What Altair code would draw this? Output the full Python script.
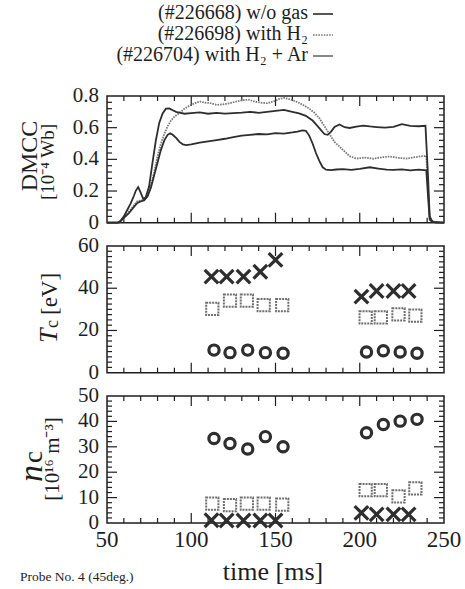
import altair as alt
import pandas as pd

# ---------------- data ----------------
# DMCC traces (time [ms], value [1e-4 Wb])
t_wo = [50, 56, 58, 60, 62, 64, 66, 67, 68.5, 70, 71.5, 73, 75, 77, 79, 81, 83, 85, 87, 89, 91, 93, 96,
        100, 105, 110, 115, 120, 125, 130, 135, 140, 145, 150, 155, 160, 164, 168, 172, 175, 177, 179,
        181, 183, 185, 188, 191, 194, 198, 202, 206, 210, 215, 220, 225, 230, 235, 239, 240.5, 241.5,
        243, 245, 250]
v_wo = [0, 0, 0.01, 0.04, 0.08, 0.12, 0.17, 0.20, 0.225, 0.19, 0.15, 0.16, 0.23, 0.38, 0.52, 0.63, 0.69,
        0.72, 0.722, 0.71, 0.70, 0.695, 0.688, 0.692, 0.697, 0.688, 0.694, 0.689, 0.692, 0.695, 0.70,
        0.694, 0.70, 0.706, 0.712, 0.70, 0.69, 0.675, 0.645, 0.61, 0.585, 0.56, 0.555, 0.575, 0.605,
        0.62, 0.603, 0.598, 0.607, 0.613, 0.608, 0.604, 0.60, 0.605, 0.622, 0.611, 0.609, 0.612, 0.30,
        0.04, 0.01, 0, 0]

t_h2 = [50, 57, 60, 63, 66, 68, 70, 72, 74, 76, 78, 80, 82, 84, 86, 88, 90, 93, 96, 100, 105, 108, 111,
        115, 119, 123, 127, 131, 134, 138, 142, 145, 149, 152, 155, 158, 161, 164, 167, 170, 173, 176,
        179, 182, 185, 188, 191, 194, 198, 203, 208, 213, 218, 223, 228, 233, 237, 239.5, 240.5,
        241.5, 243, 250]
v_h2 = [0, 0, 0.03, 0.07, 0.11, 0.135, 0.14, 0.145, 0.17, 0.23, 0.32, 0.42, 0.50, 0.56, 0.61, 0.645,
        0.67, 0.693, 0.72, 0.745, 0.766, 0.758, 0.756, 0.744, 0.747, 0.755, 0.766, 0.774, 0.777, 0.764,
        0.757, 0.755, 0.766, 0.78, 0.788, 0.781, 0.77, 0.756, 0.74, 0.72, 0.695, 0.66, 0.61, 0.56, 0.51,
        0.48, 0.45, 0.42, 0.405, 0.411, 0.404, 0.413, 0.418, 0.409, 0.405, 0.414, 0.42, 0.422, 0.21,
        0.03, 0.005, 0]

t_ar = [50, 57, 60, 63, 66, 68, 70, 72, 74, 76, 78, 80, 82, 84, 86, 87.5, 89, 91, 93, 95, 97, 100, 105,
        110, 115, 120, 125, 130, 135, 140, 145, 150, 155, 160, 163, 166, 168, 170, 172, 174, 176, 178,
        180, 183, 186, 190, 195, 200, 206, 211, 216, 220, 225, 230, 235, 239.5, 240.5, 241.5, 243, 250]
v_ar = [0, 0, 0.03, 0.06, 0.10, 0.125, 0.135, 0.14, 0.165, 0.22, 0.30, 0.38, 0.46, 0.52, 0.555, 0.565,
        0.555, 0.535, 0.51, 0.495, 0.49, 0.495, 0.505, 0.513, 0.522, 0.53, 0.54, 0.55, 0.555, 0.56,
        0.558, 0.566, 0.563, 0.57, 0.575, 0.583, 0.58, 0.55, 0.50, 0.44, 0.39, 0.35, 0.335, 0.332,
        0.336, 0.338, 0.334, 0.34, 0.35, 0.342, 0.335, 0.333, 0.337, 0.33, 0.335, 0.33, 0.17, 0.02,
        0.005, 0]

# probe measurements
t_cross = [112, 121, 131, 141, 150, 201, 210, 220, 229]
t_square = [112.5, 123, 133, 143, 154, 203.5, 212.5, 223, 233]
t_circle = [113.5, 123, 133.5, 144, 154.5, 204, 214, 224, 234]

T_cross = [45.5, 45.5, 45.5, 47.8, 53.4, 36.0, 38.7, 38.7, 38.7]
T_square = [30.2, 34.1, 34.1, 32.0, 32.0, 26.2, 26.2, 27.6, 27.0]
T_circle = [10.7, 9.5, 10.7, 9.5, 9.2, 9.8, 10.4, 9.8, 9.2]

n_cross = [1.1, 1.0, 1.0, 1.0, 1.0, 4.0, 3.4, 3.4, 3.4]
n_square = [7.6, 7.0, 7.6, 7.6, 7.2, 12.9, 12.9, 10.5, 13.6]
n_circle = [33.3, 31.3, 29.1, 34.0, 30.0, 35.5, 38.8, 40.1, 40.8]

# axes / ticks
x_labels = [50, 100, 150, 200, 250]
x_minor = [60, 70, 80, 90, 110, 120, 130, 140, 160, 170, 180, 190, 210, 220, 230, 240]
x_major = [100, 150, 200]

d_labels = [0, 0.2, 0.4, 0.6, 0.8]
d_label_text = ["0", "0.2", "0.4", "0.6", "0.8"]
d_minor = [0.04, 0.08, 0.12, 0.16, 0.24, 0.28, 0.32, 0.36, 0.44, 0.48, 0.52, 0.56, 0.64, 0.68, 0.72, 0.76]
d_major = [0.2, 0.4, 0.6]

T_labels = [0, 20, 40, 60]
T_minor = [2.5, 5, 7.5, 10, 12.5, 15, 17.5, 22.5, 25, 27.5, 30, 32.5, 35, 37.5, 42.5, 45, 47.5, 50,
           52.5, 55, 57.5]
T_major = [20, 40]

n_labels = [0, 10, 20, 30, 40, 50]
n_minor = [2, 4, 6, 8, 12, 14, 16, 18, 22, 24, 26, 28, 32, 34, 36, 38, 42, 44, 46, 48]
n_major = [10, 20, 30, 40]

legend_text = ["(#226668) w/o gas", "(#226698) with H\u2082", "(#226704) with H\u2082 + Ar"]

# ---------------- layout / style ----------------
W, H = 337, 427
P1 = (0, 126.7)
P2 = (150, 276.7)
P3 = (300, 427)
FONT = "Liberation Serif"
INK = "#1e1e1e"
LINE = "#2e2e2e"
GRAY = "#7a7a7a"

xs = alt.Scale(domain=[50, 250], nice=False, zero=False)


def ys(domain, panel):
    return alt.Scale(domain=domain, range=[panel[1], panel[0]], nice=False, zero=False)


one = pd.DataFrame({"a": [0]})
layers = []


def X(field="t"):
    return alt.X(f"{field}:Q", scale=xs, axis=None)


def Y(domain, panel, field="v"):
    return alt.Y(f"{field}:Q", scale=ys(domain, panel), axis=None)


panels = [
    (P1, [0, 0.8], d_minor, d_major, d_labels, d_label_text),
    (P2, [0, 60], T_minor, T_major, T_labels, [str(v) for v in T_labels]),
    (P3, [0, 50], n_minor, n_major, n_labels, [str(v) for v in n_labels]),
]

for panel, dom, yminor, ymajor, ylab, ylabtxt in panels:
    top, bot = panel
    # frame
    layers.append(alt.Chart(one).mark_rect(fillOpacity=0, stroke=INK, strokeWidth=1.5).encode(
        x=alt.value(0), x2=alt.value(W), y=alt.value(top), y2=alt.value(bot)))
    # x ticks (inward, bottom and top)
    for vals, L in ((x_minor, 5), (x_major, 10)):
        df = pd.DataFrame({"t": vals})
        layers.append(alt.Chart(df).mark_rule(color=INK, strokeWidth=1.2).encode(
            x=X(), y=alt.value(bot), y2=alt.value(bot - L)))
        layers.append(alt.Chart(df).mark_rule(color=INK, strokeWidth=1.2).encode(
            x=X(), y=alt.value(top), y2=alt.value(top + L)))
    # y ticks (inward, left and right)
    for vals, L in ((yminor, 5), (ymajor, 10)):
        df = pd.DataFrame({"v": vals})
        layers.append(alt.Chart(df).mark_rule(color=INK, strokeWidth=1.2).encode(
            y=Y(dom, panel), x=alt.value(0), x2=alt.value(L)))
        layers.append(alt.Chart(df).mark_rule(color=INK, strokeWidth=1.2).encode(
            y=Y(dom, panel), x=alt.value(W), x2=alt.value(W - L)))
    # y tick labels
    dfl = pd.DataFrame({"v": ylab, "s": ylabtxt})
    layers.append(alt.Chart(dfl).mark_text(font=FONT, fontSize=21, align="right", baseline="middle",
                                           color=INK).encode(
        y=Y(dom, panel), x=alt.value(-8), text="s:N"))

# x tick labels (bottom panel only)
layers.append(alt.Chart(pd.DataFrame({"t": x_labels})).mark_text(
    font=FONT, fontSize=23, align="center", baseline="middle", color=INK).encode(
    x=X(), y=alt.value(444), text="t:Q"))


# DMCC lines
def line(t, v, color, width, dash=None):
    df = pd.DataFrame({"t": t, "v": v})
    kw = dict(color=color, strokeWidth=width)
    if dash:
        kw["strokeDash"] = dash
    return alt.Chart(df).mark_line(**kw).encode(x=X(), y=Y([0, 0.8], P1))


layers.append(line(t_h2, v_h2, GRAY, 1.8, [1.6, 1.0]))
layers.append(line(t_ar, v_ar, LINE, 1.8))
layers.append(line(t_wo, v_wo, LINE, 1.8))


# markers
def pts(t, v, dom, panel, **kw):
    df = pd.DataFrame({"t": t, "v": v})
    return alt.Chart(df).mark_point(filled=False, opacity=1, **kw).encode(x=X(), y=Y(dom, panel))


CROSS = "M -1 -1 L 1 1 M -1 1 L 1 -1"
for dom, panel, vc, vs, vo in (([0, 60], P2, T_cross, T_square, T_circle),
                               ([0, 50], P3, n_cross, n_square, n_circle)):
    layers.append(pts(t_square, vs, dom, panel, shape="square", size=150, color="#6e6e6e",
                      strokeWidth=2, strokeDash=[2, 1]))
    layers.append(pts(t_circle, vo, dom, panel, shape="circle", size=105, color=LINE, strokeWidth=3.2))
    layers.append(pts(t_cross, vc, dom, panel, shape=CROSS, size=185, color=LINE, strokeWidth=3.2))


# free texts
def txt(s, x, y, size, **kw):
    return alt.Chart(one).mark_text(text=s, font=FONT, fontSize=size, color=INK, **kw).encode(
        x=alt.value(x), y=alt.value(y))


leg_y = [-83, -62, -41]
leg_style = [dict(color=LINE, strokeWidth=1.6), dict(color=GRAY, strokeWidth=1.6, strokeDash=[1.6, 1.1]),
             dict(color="#555555", strokeWidth=1.4)]
for s, yy, st in zip(legend_text, leg_y, leg_style):
    layers.append(txt(s, 201, yy, 20, align="right", baseline="middle"))
    layers.append(alt.Chart(one).mark_rule(**st).encode(
        x=alt.value(206), x2=alt.value(226), y=alt.value(yy + 1)))

# y titles
layers.append(txt("DMCC", -70, 60, 24, angle=270, align="center", baseline="alphabetic"))
layers.append(txt("[10\u207b\u2074 Wb]", -53, 66, 19, angle=270, align="center", baseline="alphabetic"))

layers.append(txt("T", -50, 247, 26, angle=270, align="left", baseline="alphabetic", fontStyle="italic"))
layers.append(txt("c", -49, 232, 18, angle=270, align="left", baseline="alphabetic"))
layers.append(txt("[eV]", -50, 219, 23, angle=270, align="left", baseline="alphabetic"))

layers.append(txt("n", -65, 386, 34, angle=270, align="left", baseline="alphabetic", fontStyle="italic"))
layers.append(txt("c", -65, 367, 27, angle=270, align="left", baseline="alphabetic"))
layers.append(txt("[10\u00b9\u2076 m\u207b\u00b3]", -48, 363, 21, angle=270, align="center",
                  baseline="alphabetic"))

# x title and footnote
layers.append(txt("time [ms]", 166, 476, 26, align="center", baseline="middle"))
layers.append(txt("Probe No. 4 (45deg.)", -87, 481, 13.5, align="left", baseline="middle"))

chart = alt.layer(*layers).resolve_scale(y="independent").properties(
    width=W, height=H,
    autosize=alt.AutoSizeParams(type="none"),
    padding={"left": 107, "top": 96, "right": 21, "bottom": 66},
    background="white",
).configure_view(stroke=None)

chart.save("out.html", embed_options={"renderer": "svg", "actions": False})
